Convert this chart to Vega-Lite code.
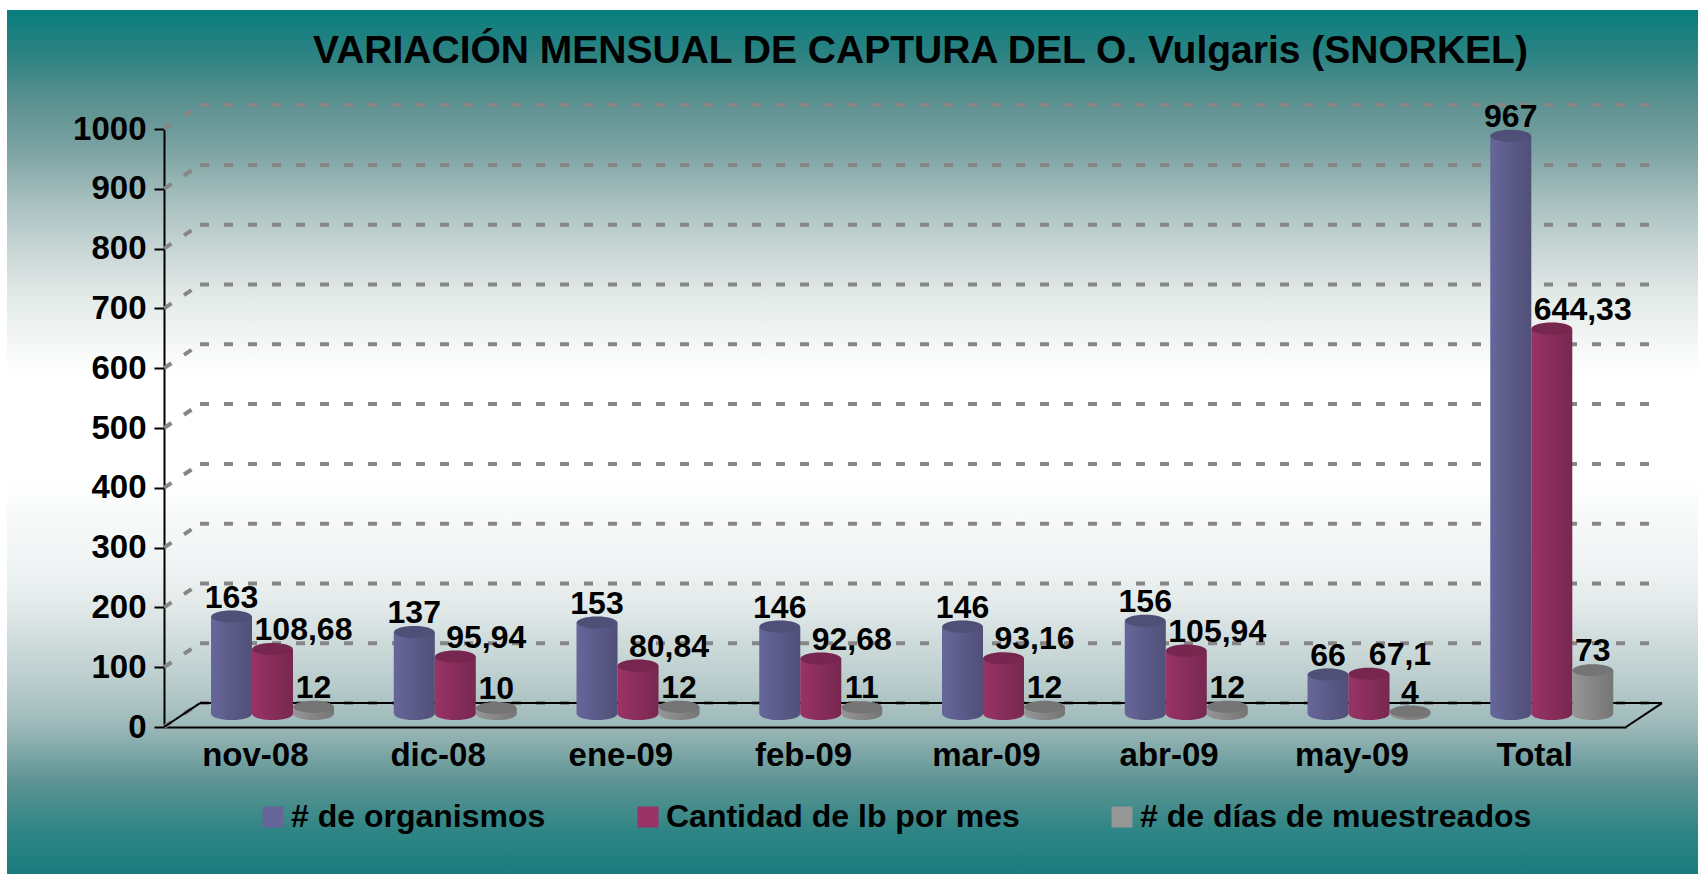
{
"$schema":"https://vega.github.io/schema/vega-lite/v6.json",
"width":1691,"height":864,
"padding":{"left":7,"top":10,"right":0,"bottom":0},
"autosize":{"type":"none"},
"background":"white",
"view":{"stroke":null,"fill":{"gradient":"linear","x1":0,"y1":0,"x2":0,"y2":1,"stops":[{"offset":0,"color":"#087e7e"},{"offset":0.05,"color":"#2c8282"},{"offset":0.104,"color":"#5a9090"},{"offset":0.162,"color":"#7ba3a2"},{"offset":0.22,"color":"#a6bfbe"},{"offset":0.278,"color":"#c8d6d5"},{"offset":0.324,"color":"#e0e8e6"},{"offset":0.42,"color":"#ffffff"},{"offset":0.54,"color":"#ffffff"},{"offset":0.637,"color":"#f0f4f4"},{"offset":0.683,"color":"#e5ebeb"},{"offset":0.787,"color":"#b5c9c9"},{"offset":0.83,"color":"#9cb8b8"},{"offset":0.891,"color":"#5f9494"},{"offset":0.95,"color":"#2f8585"},{"offset":1,"color":"#1a7c7e"}]}},
"title":{"text":"VARIACIÓN MENSUAL DE CAPTURA DEL O.  Vulgaris (SNORKEL)","font":"Liberation Sans","fontSize":39,"fontWeight":"bold","color":"#000000","anchor":"middle","baseline":"alphabetic","dx":68,"dy":92,"offset":0},
"datasets":{
"barras":[
{"mes":"nov-08","serie":"# de organismos","valor":163,"etiqueta":"163"},
{"mes":"nov-08","serie":"Cantidad de lb por mes","valor":108.68,"etiqueta":"108,68"},
{"mes":"nov-08","serie":"# de días de muestreados","valor":12,"etiqueta":"12"},
{"mes":"dic-08","serie":"# de organismos","valor":137,"etiqueta":"137"},
{"mes":"dic-08","serie":"Cantidad de lb por mes","valor":95.94,"etiqueta":"95,94"},
{"mes":"dic-08","serie":"# de días de muestreados","valor":10,"etiqueta":"10"},
{"mes":"ene-09","serie":"# de organismos","valor":153,"etiqueta":"153"},
{"mes":"ene-09","serie":"Cantidad de lb por mes","valor":80.84,"etiqueta":"80,84"},
{"mes":"ene-09","serie":"# de días de muestreados","valor":12,"etiqueta":"12"},
{"mes":"feb-09","serie":"# de organismos","valor":146,"etiqueta":"146"},
{"mes":"feb-09","serie":"Cantidad de lb por mes","valor":92.68,"etiqueta":"92,68"},
{"mes":"feb-09","serie":"# de días de muestreados","valor":11,"etiqueta":"11"},
{"mes":"mar-09","serie":"# de organismos","valor":146,"etiqueta":"146"},
{"mes":"mar-09","serie":"Cantidad de lb por mes","valor":93.16,"etiqueta":"93,16"},
{"mes":"mar-09","serie":"# de días de muestreados","valor":12,"etiqueta":"12"},
{"mes":"abr-09","serie":"# de organismos","valor":156,"etiqueta":"156"},
{"mes":"abr-09","serie":"Cantidad de lb por mes","valor":105.94,"etiqueta":"105,94"},
{"mes":"abr-09","serie":"# de días de muestreados","valor":12,"etiqueta":"12"},
{"mes":"may-09","serie":"# de organismos","valor":66,"etiqueta":"66"},
{"mes":"may-09","serie":"Cantidad de lb por mes","valor":67.1,"etiqueta":"67,1"},
{"mes":"may-09","serie":"# de días de muestreados","valor":4,"etiqueta":"4"},
{"mes":"Total","serie":"# de organismos","valor":967,"etiqueta":"967"},
{"mes":"Total","serie":"Cantidad de lb por mes","valor":644.33,"etiqueta":"644,33"},
{"mes":"Total","serie":"# de días de muestreados","valor":73,"etiqueta":"73"}
],
"rejilla":[
{"a":0,"b":0.197,"c":0,"d":40},{"a":0.197,"b":8.126,"c":40,"d":40},
{"a":0,"b":0.197,"c":100,"d":140},{"a":0.197,"b":8.126,"c":140,"d":140},
{"a":0,"b":0.197,"c":200,"d":240},{"a":0.197,"b":8.126,"c":240,"d":240},
{"a":0,"b":0.197,"c":300,"d":340},{"a":0.197,"b":8.126,"c":340,"d":340},
{"a":0,"b":0.197,"c":400,"d":440},{"a":0.197,"b":8.126,"c":440,"d":440},
{"a":0,"b":0.197,"c":500,"d":540},{"a":0.197,"b":8.126,"c":540,"d":540},
{"a":0,"b":0.197,"c":600,"d":640},{"a":0.197,"b":8.126,"c":640,"d":640},
{"a":0,"b":0.197,"c":700,"d":740},{"a":0.197,"b":8.126,"c":740,"d":740},
{"a":0,"b":0.197,"c":800,"d":840},{"a":0.197,"b":8.126,"c":840,"d":840},
{"a":0,"b":0.197,"c":900,"d":940},{"a":0.197,"b":8.126,"c":940,"d":940},
{"a":0,"b":0.197,"c":1000,"d":1040},{"a":0.197,"b":8.126,"c":1040,"d":1040}
],
"piso":[
{"a":0,"b":0.197,"c":0,"d":40},
{"a":0.197,"b":8.197,"c":40,"d":40},
{"a":8,"b":8.197,"c":0,"d":40}
]
},
"layer":[
{
"encoding":{
"x":{"field":"a","type":"quantitative","scale":{"domain":[0,8],"range":[157,1619],"nice":false,"zero":false},"axis":null},
"x2":{"field":"b"},
"y":{"field":"c","type":"quantitative","scale":{"domain":[0,1000],"range":[717,119],"nice":false},
"axis":{"title":null,"orient":"left","offset":-157,"values":[0,100,200,300,400,500,600,700,800,900,1000],"format":"d","grid":false,"domainColor":"#000000","domainWidth":2,"tickColor":"#000000","tickWidth":2,"tickSize":10,"labelFont":"Liberation Sans","labelFontSize":33,"labelFontWeight":"bold","labelColor":"#000000","labelPadding":8}},
"y2":{"field":"d"}
},
"layer":[
{"data":{"name":"rejilla"},"mark":{"type":"rule","color":"#868686","strokeWidth":4,"strokeDash":[9,15]}},
{"data":{"name":"piso"},"mark":{"type":"rule","color":"#000000","strokeWidth":2}}
]
},
{
"data":{"name":"barras"},
"encoding":{
"x":{"field":"mes","type":"nominal","sort":["nov-08","dic-08","ene-09","feb-09","mar-09","abr-09","may-09","Total"],
"scale":{"type":"band","range":[157,1619],"paddingInner":0,"paddingOuter":0},
"axis":{"title":null,"orient":"bottom","offset":-147,"ticks":false,"labelAngle":0,"domainColor":"#000000","domainWidth":2,"labelFont":"Liberation Sans","labelFontSize":33,"labelFontWeight":"bold","labelColor":"#000000","labelPadding":12}},
"xOffset":{"field":"serie","type":"nominal","sort":["# de organismos","Cantidad de lb por mes","# de días de muestreados"],"scale":{"domain":["# de organismos","Cantidad de lb por mes","# de días de muestreados"],"range":[47,170]}},
"y":{"field":"valor","type":"quantitative","scale":{"domain":[0,1000],"range":[704,106],"nice":false},"axis":null}
},
"layer":[
{"mark":{"type":"point","filled":true,"opacity":1,"shape":"M-1,0 A1,0.3,0,1,1,1,0 A1,0.3,0,1,1,-1,0 Z","size":1640},
 "encoding":{"y":{"datum":0},"color":{"field":"serie","type":"nominal","sort":["# de organismos","Cantidad de lb por mes","# de días de muestreados"],
 "scale":{"domain":["# de organismos","Cantidad de lb por mes","# de días de muestreados"],"range":["#66669a","#993366","#969696"]},
 "legend":{"orient":"none","legendX":250,"legendY":791,"direction":"horizontal","columns":3,"title":null,"symbolType":"square","symbolSize":441,"symbolStrokeWidth":0,"symbolOpacity":1,"columnPadding":86,"labelFont":"Liberation Sans","labelFontSize":32,"labelFontWeight":"bold","labelColor":"#000000","labelOffset":2,"labelLimit":500}}}},
{"mark":{"type":"point","filled":true,"opacity":1,"color":{"gradient":"linear","x1":0,"y1":0,"x2":1,"y2":0,"stops":[{"offset":0,"color":"rgba(0,0,0,0)"},{"offset":1,"color":"rgba(0,0,0,0.22)"}]},"shape":"M-1,0 A1,0.3,0,1,1,1,0 A1,0.3,0,1,1,-1,0 Z","size":1640},
 "encoding":{"y":{"datum":0}}},
{"mark":{"type":"bar"},
 "encoding":{"color":{"field":"serie","type":"nominal","sort":["# de organismos","Cantidad de lb por mes","# de días de muestreados"]}}},
{"mark":{"type":"bar","color":{"gradient":"linear","x1":0,"y1":0,"x2":1,"y2":0,"stops":[{"offset":0,"color":"rgba(0,0,0,0)"},{"offset":1,"color":"rgba(0,0,0,0.22)"}]}}},
{"mark":{"type":"point","filled":true,"opacity":1,"shape":"M-1,0 A1,0.3,0,1,1,1,0 A1,0.3,0,1,1,-1,0 Z","size":1640},
 "encoding":{"color":{"field":"serie","type":"nominal","sort":["# de organismos","Cantidad de lb por mes","# de días de muestreados"]}}},
{"mark":{"type":"point","filled":true,"opacity":0.22,"color":"#000000","shape":"M-1,0 A1,0.3,0,1,1,1,0 A1,0.3,0,1,1,-1,0 Z","size":1640}},
{"transform":[{"filter":"datum.serie !== 'Cantidad de lb por mes'"}],
 "mark":{"type":"text","font":"Liberation Sans","fontSize":32,"fontWeight":"bold","color":"#000000","baseline":"alphabetic","dy":-9},
 "encoding":{"text":{"field":"etiqueta","type":"nominal"}}},
{"transform":[{"filter":"datum.serie === 'Cantidad de lb por mes'"}],
 "mark":{"type":"text","font":"Liberation Sans","fontSize":32,"fontWeight":"bold","color":"#000000","baseline":"alphabetic","dx":31,"dy":-9},
 "encoding":{"text":{"field":"etiqueta","type":"nominal"}}}
]
}
],
"resolve":{"scale":{"x":"independent","y":"independent"},"axis":{"x":"independent","y":"independent"}}
}
